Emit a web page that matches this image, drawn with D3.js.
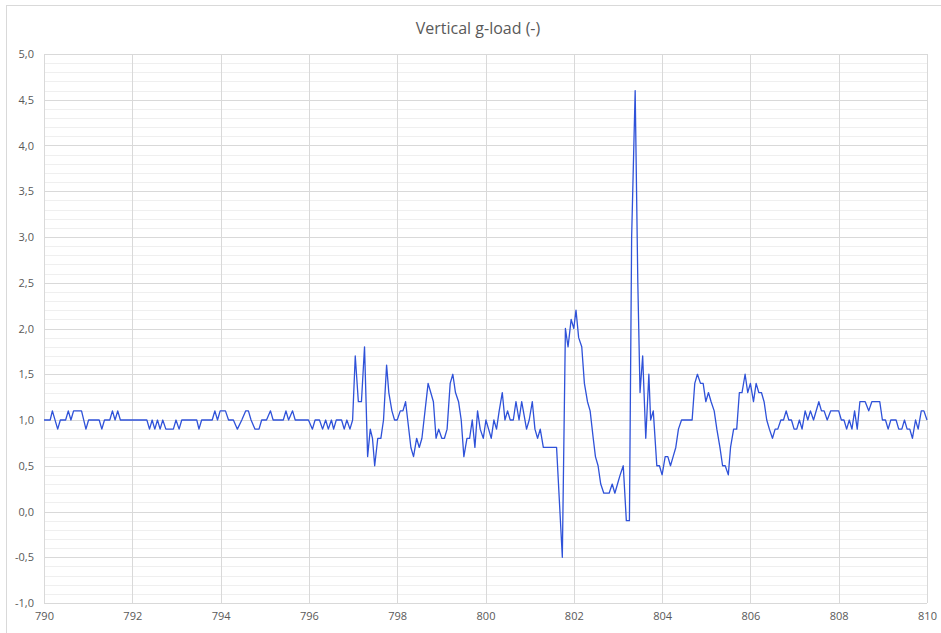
<!DOCTYPE html>
<html lang="en">
<head>
    <meta charset="UTF-8">
    <title>Vertical g-load</title>
    <script src="https://d3js.org/d3.v7.min.js"></script>
    <style>
        body { margin: 0; background: #fff; }
        svg text { font-family: "Open Sans", "DejaVu Sans", sans-serif; fill: #595959; }
    </style>
</head>
<body>
    <div id="chart"></div>

    <script>
        // time (s) of each sample
        var time = [
            790.00, 790.14, 790.19, 790.31, 790.37, 790.49, 790.55, 790.61, 790.67, 790.85,
            790.95, 791.01, 791.25, 791.31, 791.37, 791.49, 791.55, 791.61, 791.67, 791.73,
            792.33, 792.39, 792.45, 792.51, 792.57, 792.63, 792.69, 792.76, 792.93, 792.99,
            793.06, 793.12, 793.46, 793.51, 793.57, 793.81, 793.87, 793.93, 793.99, 794.11,
            794.18, 794.29, 794.38, 794.48, 794.57, 794.63, 794.69, 794.78, 794.87, 794.93,
            795.04, 795.13, 795.19, 795.42, 795.48, 795.54, 795.63, 795.69, 795.99, 796.08,
            796.14, 796.24, 796.31, 796.38, 796.44, 796.51, 796.56, 796.62, 796.74, 796.80,
            796.86, 796.93, 796.99, 797.05, 797.12, 797.19, 797.26, 797.33, 797.39, 797.44,
            797.49, 797.56, 797.63, 797.69, 797.76, 797.81, 797.88, 797.94, 798.00, 798.07,
            798.13, 798.19, 798.31, 798.37, 798.44, 798.50, 798.56, 798.63, 798.70, 798.76,
            798.82, 798.88, 798.94, 799.01, 799.07, 799.13, 799.20, 799.26, 799.32, 799.39,
            799.45, 799.51, 799.58, 799.64, 799.70, 799.76, 799.82, 799.88, 799.95, 800.01,
            800.07, 800.13, 800.19, 800.25, 800.31, 800.38, 800.44, 800.50, 800.56, 800.63,
            800.69, 800.76, 800.82, 800.93, 800.99, 801.06, 801.12, 801.18, 801.24, 801.31,
            801.61, 801.74, 801.81, 801.87, 801.94, 802.00, 802.05, 802.11, 802.18, 802.24,
            802.31, 802.37, 802.44, 802.49, 802.55, 802.61, 802.68, 802.80, 802.87, 802.93,
            802.99, 803.05, 803.12, 803.19, 803.26, 803.31, 803.39, 803.45, 803.50, 803.56,
            803.63, 803.70, 803.74, 803.80, 803.88, 803.94, 804.00, 804.07, 804.13, 804.19,
            804.25, 804.31, 804.37, 804.44, 804.68, 804.74, 804.80, 804.87, 804.93, 804.99,
            805.05, 805.11, 805.18, 805.24, 805.31, 805.37, 805.43, 805.50, 805.55, 805.62,
            805.69, 805.75, 805.81, 805.88, 805.94, 806.00, 806.07, 806.13, 806.19, 806.25,
            806.31, 806.37, 806.43, 806.50, 806.56, 806.62, 806.69, 806.75, 806.81, 806.87,
            806.93, 806.99, 807.05, 807.11, 807.17, 807.24, 807.30, 807.36, 807.43, 807.55,
            807.61, 807.67, 807.74, 807.82, 808.00, 808.06, 808.12, 808.18, 808.24, 808.30,
            808.36, 808.42, 808.48, 808.60, 808.68, 808.75, 808.93, 808.99, 809.06, 809.12,
            809.18, 809.30, 809.36, 809.43, 809.49, 809.55, 809.61, 809.67, 809.74, 809.80,
            809.87, 809.93, 810.00
        ];

        // vertical g-load (-) at each of those times
        var gload = [
            1.0, 1.0, 1.1, 0.9, 1.0, 1.0, 1.1, 1.0, 1.1, 1.1,
            0.9, 1.0, 1.0, 0.9, 1.0, 1.0, 1.1, 1.0, 1.1, 1.0,
            1.0, 0.9, 1.0, 0.9, 1.0, 0.9, 1.0, 0.9, 0.9, 1.0,
            0.9, 1.0, 1.0, 0.9, 1.0, 1.0, 1.1, 1.0, 1.1, 1.1,
            1.0, 1.0, 0.9, 1.0, 1.1, 1.1, 1.0, 0.9, 0.9, 1.0,
            1.0, 1.1, 1.0, 1.0, 1.1, 1.0, 1.1, 1.0, 1.0, 0.9,
            1.0, 1.0, 0.9, 1.0, 0.9, 1.0, 0.9, 1.0, 1.0, 0.9,
            1.0, 0.9, 1.0, 1.7, 1.2, 1.2, 1.8, 0.6, 0.9, 0.8,
            0.5, 0.8, 0.8, 1.0, 1.6, 1.3, 1.1, 1.0, 1.0, 1.1,
            1.1, 1.2, 0.7, 0.6, 0.8, 0.7, 0.8, 1.1, 1.4, 1.3,
            1.2, 0.8, 0.9, 0.8, 0.8, 0.9, 1.4, 1.5, 1.3, 1.2,
            1.0, 0.6, 0.8, 0.8, 1.0, 0.7, 1.1, 0.9, 0.8, 1.0,
            0.9, 0.8, 1.0, 0.9, 1.1, 1.3, 1.0, 1.1, 1.0, 1.0,
            1.2, 1.0, 1.2, 0.9, 1.0, 1.2, 0.9, 0.8, 0.9, 0.7,
            0.7, -0.5, 2.0, 1.8, 2.1, 2.0, 2.2, 1.9, 1.8, 1.4,
            1.2, 1.1, 0.8, 0.6, 0.5, 0.3, 0.2, 0.2, 0.3, 0.2,
            0.3, 0.4, 0.5, -0.1, -0.1, 3.0, 4.6, 2.5, 1.3, 1.7,
            0.8, 1.5, 1.0, 1.1, 0.5, 0.5, 0.4, 0.6, 0.6, 0.5,
            0.6, 0.7, 0.9, 1.0, 1.0, 1.4, 1.5, 1.4, 1.4, 1.2,
            1.3, 1.2, 1.1, 0.9, 0.7, 0.5, 0.5, 0.4, 0.7, 0.9,
            0.9, 1.3, 1.3, 1.5, 1.3, 1.4, 1.2, 1.4, 1.3, 1.3,
            1.2, 1.0, 0.9, 0.8, 0.9, 0.9, 1.0, 1.0, 1.1, 1.0,
            1.0, 0.9, 0.9, 1.0, 0.9, 1.1, 1.0, 1.1, 1.0, 1.2,
            1.1, 1.1, 1.0, 1.1, 1.1, 1.0, 1.0, 0.9, 1.0, 0.9,
            1.1, 0.9, 1.2, 1.2, 1.1, 1.2, 1.2, 1.0, 1.0, 0.9,
            1.0, 1.0, 0.9, 0.9, 1.0, 0.9, 0.9, 0.8, 1.0, 0.9,
            1.1, 1.1, 1.0
        ];

        var xTicks = [790, 792, 794, 796, 798, 800, 802, 804, 806, 808, 810];
        var yTicks = [-1.0, -0.5, 0.0, 0.5, 1.0, 1.5, 2.0, 2.5, 3.0, 3.5, 4.0, 4.5, 5.0];
        var chartTitle = "Vertical g-load (-)";

        var W = 941, H = 633;
        var margin = {top: 54, right: 14, bottom: 30, left: 44};
        var width = W - margin.left - margin.right;
        var height = H - margin.top - margin.bottom;

        var data = time.map(function(t, i) { return {t: t, v: gload[i]}; });

        var svg = d3.select("#chart")
            .append("svg")
            .attr("width", W)
            .attr("height", H);

        // outer chart border (only left and top edges fall inside the picture)
        svg.append("rect")
            .attr("x", 6.5).attr("y", 5.5)
            .attr("width", 1200).attr("height", 1200)
            .attr("fill", "none")
            .attr("stroke", "#d9d9d9");

        svg.append("text")
            .attr("x", 478).attr("y", 34)
            .attr("text-anchor", "middle")
            .style("font-size", "16px")
            .text(chartTitle);

        var g = svg.append("g")
            .attr("transform", `translate(${margin.left},${margin.top})`);

        var x = d3.scaleLinear().domain([790, 810]).range([0, width]);
        var y = d3.scaleLinear().domain([-1, 5]).range([height, 0]);

        // minor horizontal gridlines every 0.1
        var minor = d3.range(-10, 51).map(function(k) { return k / 10; })
            .filter(function(v) { return Math.abs(v * 2 - Math.round(v * 2)) > 1e-6; });
        g.append("g").selectAll("line")
            .data(minor)
            .join("line")
            .attr("x1", 0).attr("x2", width)
            .attr("y1", function(d) { return Math.round(y(d)) + 0.5; })
            .attr("y2", function(d) { return Math.round(y(d)) + 0.5; })
            .attr("stroke", "#efefef");

        // major gridlines
        g.append("g").selectAll("line")
            .data(yTicks)
            .join("line")
            .attr("x1", 0).attr("x2", width)
            .attr("y1", function(d) { return Math.round(y(d)) + 0.5; })
            .attr("y2", function(d) { return Math.round(y(d)) + 0.5; })
            .attr("stroke", "#d9d9d9");

        g.append("g").selectAll("line")
            .data(xTicks)
            .join("line")
            .attr("y1", 0).attr("y2", height)
            .attr("x1", function(d) { return Math.round(x(d)) + 0.5; })
            .attr("x2", function(d) { return Math.round(x(d)) + 0.5; })
            .attr("stroke", "#d9d9d9");

        var fmt = d3.formatLocale({decimal: ",", thousands: ".", grouping: [3], currency: ["", ""], minus: "-"}).format(".1f");

        var yAxis = g.append("g")
            .call(d3.axisLeft(y).tickValues(yTicks).tickSize(0).tickPadding(10).tickFormat(fmt));
        yAxis.select(".domain").remove();
        yAxis.selectAll("text").style("font-size", "11px").style("fill", "#595959");

        var xAxis = g.append("g")
            .attr("transform", `translate(0, ${height})`)
            .call(d3.axisBottom(x).tickValues(xTicks).tickSize(0).tickPadding(9).tickFormat(d3.format("d")));
        xAxis.select(".domain").remove();
        xAxis.selectAll("text").style("font-size", "11px").style("fill", "#595959");

        g.append("path")
            .datum(data)
            .attr("fill", "none")
            .attr("stroke", "#2f52d9")
            .attr("stroke-width", 1.3)
            .attr("stroke-linejoin", "round")
            .attr("d", d3.line()
                .x(function(d) { return x(d.t); })
                .y(function(d) { return y(d.v); }));
    </script>
</body>
</html>
